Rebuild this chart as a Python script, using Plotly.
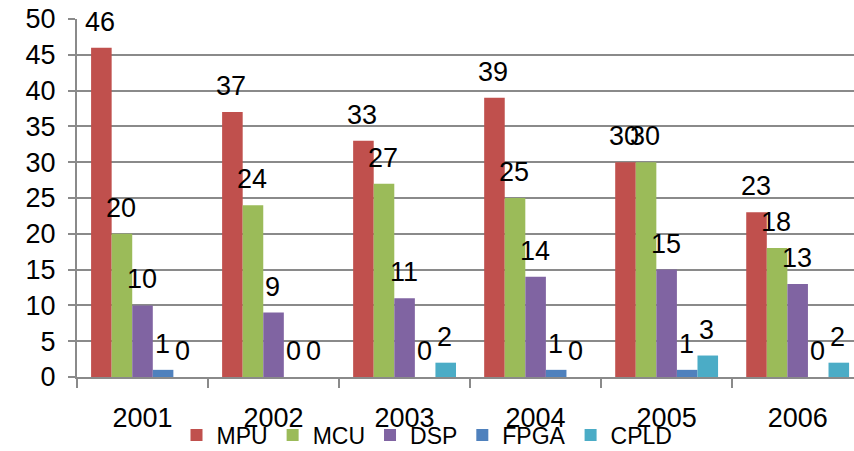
import plotly.graph_objects as go

years = ["2001", "2002", "2003", "2004", "2005", "2006"]
series_names = ["MPU", "MCU", "DSP", "FPGA", "CPLD"]
mpu = [46, 37, 33, 39, 30, 23]
mcu = [20, 24, 27, 25, 30, 18]
dsp = [10, 9, 11, 14, 15, 13]
fpga = [1, 0, 0, 1, 1, 0]
cpld = [0, 0, 2, 0, 3, 2]
y_ticks = list(range(0, 51, 5))

colors = ["#C0504D", "#9BBB59", "#8064A2", "#4F81BD", "#4BACC6"]
FONT = "Liberation Sans, Arial, sans-serif"
GRID = "#8a8a8a"
BARGAP = 0.215

values = [mpu, mcu, dsp, fpga, cpld]
fig = go.Figure()
for name, vals, c in zip(series_names, values, colors):
    fig.add_bar(x=years, y=vals, name=name, marker=dict(color=c, line_width=0))

n = len(series_names)
w = (1 - BARGAP) / n
annotations = []
for j, vals in enumerate(values):
    for i, v in enumerate(vals):
        annotations.append(dict(
            x=i + (j - (n - 1) / 2) * w, y=v, xref="x", yref="y",
            text=str(v), showarrow=False, yanchor="bottom", yshift=9, xshift=-1,
            font=dict(size=27, color="black", family=FONT)))

fig.update_layout(
    width=854, height=451,
    margin=dict(l=77, r=0, t=19, b=74, autoexpand=False),
    paper_bgcolor="white", plot_bgcolor="white",
    barmode="group", bargap=BARGAP, bargroupgap=0,
    font=dict(family=FONT, size=27, color="black"),
    annotations=annotations,
    showlegend=True,
    legend=dict(orientation="h", xref="container", yref="paper",
                x=0.5, xanchor="center", y=-0.102, yanchor="top",
                font=dict(size=23, color="black", family=FONT),
                bgcolor="rgba(0,0,0,0)", itemwidth=30),
    xaxis=dict(type="category", range=[-0.5, 5.43], tickson="boundaries",
               ticks="outside", ticklen=9, tickwidth=2, tickcolor=GRID,
               showline=True, linecolor=GRID, linewidth=2, showgrid=False,
               ticklabelstandoff=16, tickfont=dict(size=27), automargin=False),
    yaxis=dict(range=[0, 50], tickvals=y_ticks, ticks="outside", ticklen=7,
               tickwidth=2, tickcolor=GRID, showline=True, linecolor=GRID,
               linewidth=2, showgrid=True, gridcolor=GRID, gridwidth=2,
               zeroline=False, ticklabelstandoff=7, tickfont=dict(size=27),
               automargin=False),
)

fig.write_html("out.html", config={"displayModeBar": False},
               post_script="document.body.style.margin='0';document.body.style.overflow='hidden';")
